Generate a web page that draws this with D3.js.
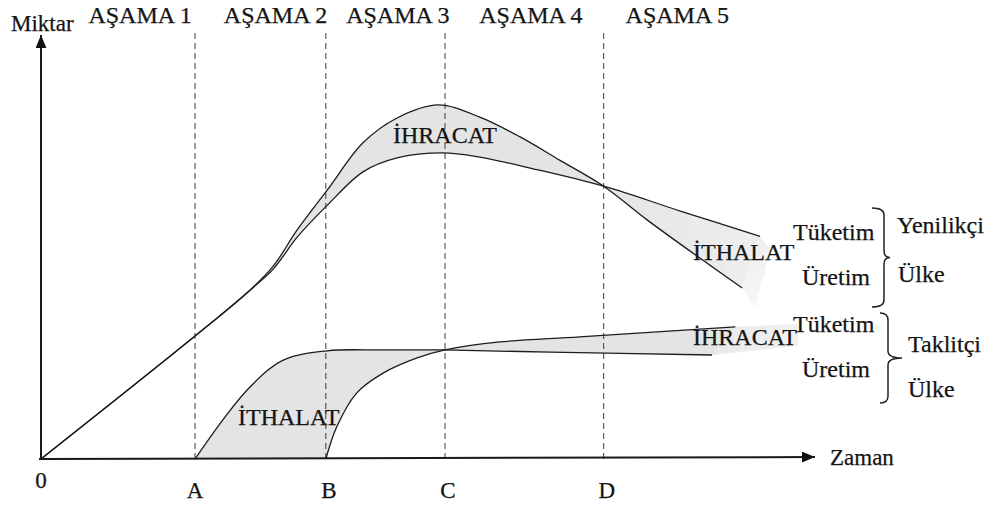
<!DOCTYPE html>
<html>
<head>
<meta charset="utf-8">
<script src="https://cdn.jsdelivr.net/npm/d3@7"></script>
<style>
  html, body { margin: 0; padding: 0; background: #fff; }
  svg { display: block; }
  svg text { font-family: "Liberation Serif", "Times New Roman", Tinos, "DejaVu Serif", serif; fill: #141414; stroke: #141414; stroke-width: 0.25px; }
</style>
</head>
<body>
<svg id="chart" width="993" height="505" font-family="Liberation Serif, Times New Roman, serif"></svg>
<script>
// ---------------- DATA ----------------
const stageLabels = ["AŞAMA 1", "AŞAMA 2", "AŞAMA 3", "AŞAMA 4", "AŞAMA 5"];
const stageCenters = [12.8, 30.3, 46.1, 63.3, 82.2];          // time units
const boundaryLabels = ["0", "A", "B", "C", "D"];
const boundaryTimes = [0, 19.9, 36.8, 52.2, 72.7];

// Innovating country (Yenilikçi Ülke)
const innovProdT = [0, 19.9, 27.0, 30.0, 33.1, 37.0, 41.6, 46.0, 51.3, 56.7, 61.9, 67.0, 72.7, 78.3, 90.6];
const innovProdQ = [0, 29.2, 40.1, 45.8, 54.4, 63.9, 75.1, 81.0, 84.1, 81.2, 76.5, 71.0, 64.8, 56.8, 40.6];
const innovConsT = [0, 19.9, 27.0, 30.0, 33.1, 37.0, 41.6, 46.0, 51.9, 56.7, 63.2, 72.7, 82.6, 92.9];
const innovConsQ = [0, 29.2, 40.1, 45.1, 52.7, 60.3, 68.2, 71.5, 72.7, 71.7, 69.1, 64.8, 58.9, 52.9];

// Imitating country (Taklitçi Ülke)
const imitConsT = [19.9, 23.5, 27.0, 31.3, 37.0, 44.0, 51.9, 65.8, 86.7];
const imitConsQ = [0, 9.3, 17.1, 23.5, 25.7, 25.9, 25.9, 25.4, 24.7];
const imitProdT = [36.8, 38.2, 40.8, 44.2, 48.6, 52.2, 59.3, 69.6, 89.7];
const imitProdQ = [0, 7.6, 15.7, 20.4, 24.0, 25.9, 27.8, 29.0, 31.4];

// soft shading tails beyond the curve ends
const innovTailT = [92.9, 94.3, 92.2, 90.6];
const innovTailQ = [52.9, 49.6, 35.9, 40.6];
const imitTailT = [89.7, 97.8, 97.8, 86.7];
const imitTailQ = [31.4, 32.1, 26.9, 24.7];

const regionLabels = ["İHRACAT", "İTHALAT", "İHRACAT", "İTHALAT"];
const xAxisTitle = "Zaman";
const yAxisTitle = "Miktar";

// ---------------- DRAW ----------------
const svg = d3.select("#chart");
const FONT = "Liberation Serif, Times New Roman, serif";
const x = d3.scaleLinear().domain([0, 100]).range([41, 815]);
const y = d3.scaleLinear().domain([0, 100]).range([459, 38]);

const zip = (T, Q) => T.map((t, i) => [t, Q[i]]);
const innovProd = zip(innovProdT, innovProdQ);
const innovCons = zip(innovConsT, innovConsQ);
const imitCons = zip(imitConsT, imitConsQ);
const imitProd = zip(imitProdT, imitProdQ);

const line = d3.line().x(d => x(d[0])).y(d => y(d[1])).curve(d3.curveCatmullRom.alpha(0.5));
const poly = d3.line().x(d => x(d[0])).y(d => y(d[1]));

const defs = svg.append("defs");
defs.append("marker").attr("id", "arrow")
  .attr("viewBox", "0 0 12 10").attr("refX", 12).attr("refY", 5)
  .attr("markerWidth", 13).attr("markerHeight", 11)
  .attr("markerUnits", "userSpaceOnUse").attr("orient", "auto")
  .append("path").attr("d", "M0,0 L12,5 L0,10 Z").attr("fill", "#111");

const shade = "#e4e4e4";
const gMain = defs.append("linearGradient").attr("id", "mainFade")
  .attr("gradientUnits", "userSpaceOnUse")
  .attr("x1", x(0)).attr("y1", 0).attr("x2", x(94)).attr("y2", 0);
gMain.append("stop").attr("offset", (x(72.7) - x(0)) / (x(94) - x(0))).attr("stop-color", shade);
gMain.append("stop").attr("offset", 1).attr("stop-color", "#efefef");

const g1 = defs.append("linearGradient").attr("id", "fadeA")
  .attr("gradientUnits", "userSpaceOnUse")
  .attr("x1", x(88)).attr("y1", y(50)).attr("x2", x(93)).attr("y2", y(36));
g1.append("stop").attr("offset", 0).attr("stop-color", "#ececec");
g1.append("stop").attr("offset", 1).attr("stop-color", "#f8f8f8");
const g2 = defs.append("linearGradient").attr("id", "fadeB")
  .attr("gradientUnits", "userSpaceOnUse")
  .attr("x1", x(80)).attr("y1", 0).attr("x2", x(98)).attr("y2", 0);
g2.append("stop").attr("offset", 0).attr("stop-color", shade);
g2.append("stop").attr("offset", 1).attr("stop-color", "#f1f1f1");

// Innovating country shading: production forward + consumption backward
const innovPath = line(innovProd) + line(innovCons.slice().reverse()).replace(/^M/, "L") + "Z";
svg.append("path").attr("d", innovPath).attr("fill", "url(#mainFade)");
svg.append("path").attr("d", poly(zip(innovTailT, innovTailQ)) + "Z").attr("fill", "url(#fadeA)");
// Imitating country shading
const imitPath = line(imitCons) + line(imitProd.slice().reverse()).replace(/^M/, "L") + "Z";
svg.append("path").attr("d", imitPath).attr("fill", shade);
svg.append("path").attr("d", poly(zip(imitTailT, imitTailQ)) + "Z").attr("fill", "url(#fadeB)");

// dashed stage boundaries
svg.selectAll("line.bound").data(boundaryTimes.slice(1)).enter().append("line")
  .attr("class", "bound")
  .attr("x1", d => x(d)).attr("x2", d => x(d))
  .attr("y1", 33).attr("y2", y(0))
  .attr("stroke", "#3a3a3a").attr("stroke-width", 1).attr("stroke-dasharray", "6,4");

// curves
[innovProd, innovCons, imitCons, imitProd].forEach(pts => {
  svg.append("path").attr("d", line(pts)).attr("fill", "none")
    .attr("stroke", "#1c1c1c").attr("stroke-width", 1.3);
});

// axes
svg.append("line").attr("x1", x(0)).attr("y1", y(0)).attr("x2", x(0)).attr("y2", 35)
  .attr("stroke", "#1a1a1a").attr("stroke-width", 2).attr("marker-end", "url(#arrow)");
svg.append("line").attr("x1", x(0) - 2).attr("y1", y(0)).attr("x2", x(100)).attr("y2", y(0) - 2)
  .attr("stroke", "#1a1a1a").attr("stroke-width", 2).attr("marker-end", "url(#arrow)");

function txt(s, px, py, size, anchor) {
  return svg.append("text").attr("x", px).attr("y", py).attr("font-size", size)
    .attr("font-family", FONT).attr("text-anchor", anchor || "start").text(s);
}

// axis titles
txt(yAxisTitle, 11, 31, 23);
txt(xAxisTitle, 830, 465, 23);

// stage labels
stageLabels.forEach((s, i) => txt(s, x(stageCenters[i]), 23, 24, "middle"));

// boundary labels
boundaryLabels.forEach((s, i) => txt(s, x(boundaryTimes[i]) + (i >= 2 ? 3 : 0), i === 0 ? 488 : 498, 23, "middle"));

// region labels
const regionPos = [[393, 143], [693, 260], [693, 345], [238, 425]];
regionLabels.forEach((s, i) => txt(s, regionPos[i][0], regionPos[i][1], 24));

// right-hand legend
const legend = [
  ["Tüketim", 793, 240], ["Üretim", 802, 285], ["Tüketim", 793, 332], ["Üretim", 802, 377],
  ["Yenilikçi", 897, 233], ["Ülke", 898, 282], ["Taklitçi", 908, 352], ["Ülke", 908, 397]
];
legend.forEach(d => txt(d[0], d[1], d[2], 24));

function brace(xl, yt, yb, xv, xt) {
  const ym = (yt + yb) / 2, r = 7;
  return `M${xl},${yt} Q${xv},${yt} ${xv},${yt + r} L${xv},${ym - r} Q${xv},${ym} ${xt},${ym}` +
         ` Q${xv},${ym} ${xv},${ym + r} L${xv},${yb - r} Q${xv},${yb} ${xl},${yb}`;
}
svg.append("path").attr("d", brace(872, 208, 307, 884, 890))
  .attr("fill", "none").attr("stroke", "#222").attr("stroke-width", 1.5);
svg.append("path").attr("d", brace(880, 313, 403, 888, 902))
  .attr("fill", "none").attr("stroke", "#222").attr("stroke-width", 1.5);
</script>
</body>
</html>
